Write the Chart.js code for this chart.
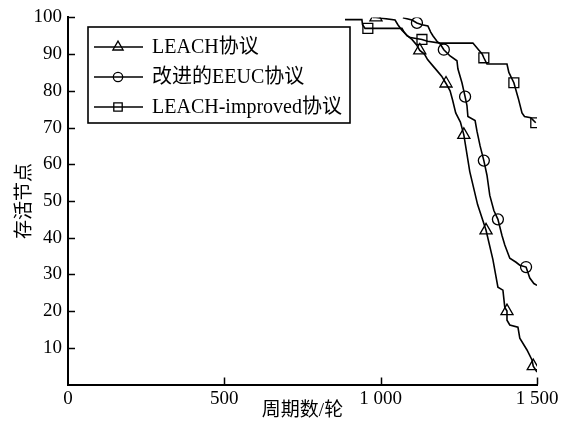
<!DOCTYPE html>
<html>
<head>
<meta charset="utf-8">
<script src="https://cdn.jsdelivr.net/npm/chart.js@4/dist/chart.umd.min.js"></script>
<style>
  html, body { margin: 0; padding: 0; background: #fff; }
  #wrap { width: 572px; height: 425px; position: relative; }
</style>
</head>
<body>
<div id="wrap"><canvas id="c" width="572" height="425"></canvas></div>
<script>
// ---- data ----
const seriesNames = ['LEACH协议', '改进的EEUC协议', 'LEACH-improved协议'];
const xTicks = [0, 500, 1000, 1500];
const yTicks = [10, 20, 30, 40, 50, 60, 70, 80, 90, 100];

const leachX = [975, 985, 1046, 1055, 1068, 1085, 1100, 1115, 1125, 1140, 1150, 1165, 1180, 1195, 1209, 1222, 1230, 1240, 1255, 1266, 1285, 1310, 1337, 1359, 1375, 1391, 1397, 1404, 1404, 1413, 1439, 1445, 1468, 1484, 1488, 1500];
const leachY = [100, 100, 99.3, 98, 96.5, 95, 94, 92.5, 91, 90, 88.5, 87, 85.5, 84, 82, 80, 77.5, 74, 71.5, 68, 58, 49, 42, 34, 26.5, 25.7, 21, 20, 17.5, 16.2, 15.6, 12.6, 9.4, 6.7, 5, 3.4];
const leachMarks = [1, 8, 14, 19, 22, 27, 34];

const eeucX = [1071, 1100, 1116, 1132, 1151, 1160, 1167, 1180, 1190, 1202, 1222, 1244, 1247, 1260, 1270, 1276, 1279, 1302, 1308, 1318, 1330, 1340, 1349, 1362, 1375, 1388, 1397, 1413, 1433, 1445, 1465, 1477, 1490, 1500];
const eeucY = [99.9, 99.3, 98.5, 98, 97.7, 96, 95, 93.5, 92.8, 91.2, 89.5, 88.2, 86, 82.2, 78.4, 76, 73, 71.9, 69, 65, 61, 57, 51.5, 47.4, 45, 40.6, 38, 34.4, 33.3, 32.5, 32, 29, 27.5, 27];
const eeucMarks = [2, 9, 14, 20, 24, 30];

const impX = [886, 940, 942, 950, 959, 1068, 1075, 1085, 1095, 1132, 1150, 1190, 1295, 1305, 1315, 1325, 1330, 1340, 1404, 1410, 1426, 1440, 1452, 1460, 1480, 1496];
const impY = [99.4, 99.4, 98, 97, 97, 97, 96, 95, 94.5, 94, 93.5, 93, 93, 92, 91, 90, 89, 87.3, 87.3, 85, 82.2, 78, 74, 73, 72.7, 71.3];
const impMarks = [4, 9, 16, 20, 25];

// ---- chart ----
const serif = "'Liberation Serif', 'Times New Roman', 'Noto Sans CJK SC', serif";
const pts = (xs, ys) => xs.map((x, i) => ({ x: x, y: ys[i] }));
const styles = ['triangle', 'circle', 'rect'];
const radii = [7, 5.5, 7];
const marks = [leachMarks, eeucMarks, impMarks];
const data = [pts(leachX, leachY), pts(eeucX, eeucY), pts(impX, impY)];

const datasets = data.map((d, k) => ({
  label: seriesNames[k],
  data: d,
  borderColor: '#000',
  borderWidth: 1.6,
  backgroundColor: 'rgba(0,0,0,0)',
  pointStyle: styles[k],
  pointRadius: ctx => marks[k].includes(ctx.dataIndex) ? radii[k] : 0,
  pointHoverRadius: 0,
  pointBorderColor: '#000',
  pointBorderWidth: 1.3,
  pointBackgroundColor: 'rgba(0,0,0,0)',
  tension: 0,
  fill: false
}));

const tickPlugin = {
  id: 'innerTicks',
  afterDatasetsDraw(chart) {
    const { ctx, chartArea, scales } = chart;
    ctx.save();
    ctx.strokeStyle = '#000';
    ctx.lineWidth = 1.5;
    yTicks.forEach(v => {
      const y = Math.round(scales.y.getPixelForValue(v)) + 0.5;
      ctx.beginPath(); ctx.moveTo(chartArea.left, y); ctx.lineTo(chartArea.left + 7, y); ctx.stroke();
    });
    xTicks.forEach(v => {
      if (v === 0) return;
      const x = Math.round(scales.x.getPixelForValue(v)) + 0.5;
      ctx.beginPath(); ctx.moveTo(x, chartArea.bottom); ctx.lineTo(x, chartArea.bottom - 7); ctx.stroke();
    });
    ctx.restore();
  }
};

const legendPlugin = {
  id: 'boxLegend',
  afterDraw(chart) {
    const { ctx } = chart;
    const box = { l: 88, t: 27, r: 350, b: 123 };
    const rows = [47, 77, 107];
    ctx.save();
    ctx.strokeStyle = '#000';
    ctx.lineWidth = 1.6;
    ctx.strokeRect(box.l, box.t, box.r - box.l, box.b - box.t);
    chart.data.datasets.forEach((ds, k) => {
      const y = rows[k];
      ctx.strokeStyle = '#000';
      ctx.beginPath(); ctx.moveTo(94, y); ctx.lineTo(143, y); ctx.lineWidth = 1.6; ctx.stroke();
      ctx.lineWidth = 1.3;
      ctx.fillStyle = 'rgba(0,0,0,0)';
      Chart.helpers.drawPoint(ctx, { pointStyle: styles[k], radius: radii[k] * 0.85, borderWidth: 1.3 }, 118, y);
      ctx.fillStyle = '#000';
      ctx.font = "20px " + serif;
      ctx.textBaseline = 'middle';
      ctx.fillText(ds.label, 152, y + 1);
    });
    ctx.restore();
  }
};

new Chart(document.getElementById('c'), {
  type: 'line',
  data: { datasets: datasets },
  options: {
    responsive: false,
    animation: false,
    events: [],
    layout: { padding: { left: 0, right: 35, top: 16.5, bottom: 0 } },
    plugins: { legend: { display: false }, tooltip: { enabled: false } },
    scales: {
      x: {
        type: 'linear', min: 0, max: 1500,
        afterBuildTicks: s => { s.ticks = xTicks.map(v => ({ value: v })); },
        afterFit: s => { s.height = 40.5; },
        grid: { display: false, drawTicks: false },
        border: { display: true, color: '#000', width: 2 },
        ticks: {
          color: '#000', padding: 3, maxRotation: 0,
          font: { family: serif, size: 19 },
          callback: v => v >= 1000 ? String(v).replace(/(\d)(\d{3})$/, '$1 $2') : String(v)
        },
        title: { display: true, text: '周期数/轮', color: '#000', font: { family: serif, size: 19 }, padding: { top: 0, bottom: 3 } }
      },
      y: {
        type: 'linear', min: 0, max: 100,
        afterBuildTicks: s => { s.ticks = yTicks.map(v => ({ value: v })); },
        afterFit: s => { s.width = 68; },
        grid: { display: false, drawTicks: false },
        border: { display: true, color: '#000', width: 2 },
        ticks: { color: '#000', padding: 6, font: { family: serif, size: 19 } },
        title: { display: true, text: '存活节点', color: '#000', font: { family: serif, size: 19 }, padding: { top: 14, bottom: 0 } }
      }
    }
  },
  plugins: [tickPlugin, legendPlugin]
});
</script>
</body>
</html>
